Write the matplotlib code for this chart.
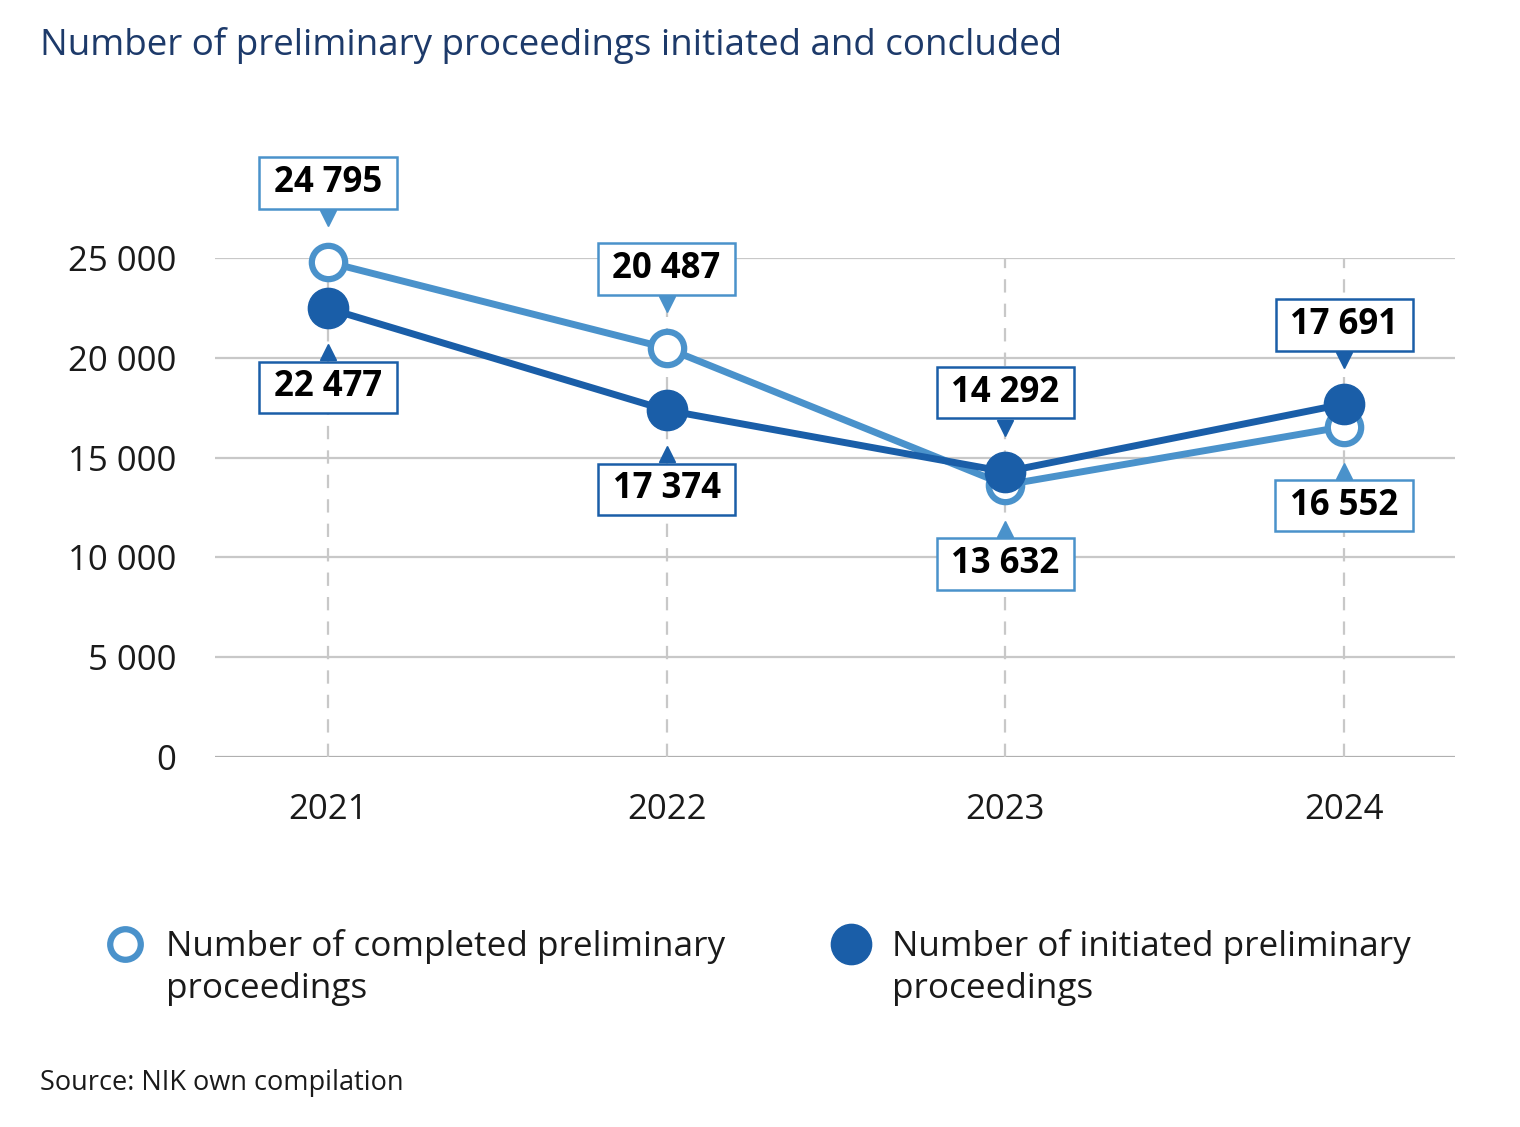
import matplotlib
matplotlib.use("Agg")
import matplotlib.pyplot as plt
import matplotlib.transforms as mtransforms
from matplotlib.lines import Line2D

plt.rcParams["font.family"] = ["Open Sans", "DejaVu Sans"]

years = ["2021", "2022", "2023", "2024"]
completed = [24795, 20487, 13632, 16552]
initiated = [22477, 17374, 14292, 17691]
yticks = [0, 5000, 10000, 15000, 20000, 25000]

LIGHT = "#4a92cb"
DARK = "#1a5ea8"
GRID = "#c8c8c8"
TXT = "#1a1a1a"


def fmt(v):
    return f"{v:,}".replace(",", " ")


fig = plt.figure(figsize=(15.2, 11.27), dpi=100)
ax = fig.add_axes([215 / 1520, 370 / 1127, 1240 / 1520, 499 / 1127])

x = list(range(len(years)))
ax.set_xlim(-0.333, 3.327)
ax.set_ylim(0, 25000)

for v in yticks:
    ax.axhline(v, color="#b0b0b0" if v == 0 else GRID, lw=1.6, zorder=1)
for xi in x:
    ax.axvline(xi, color=GRID, lw=1.6, ls=(0, (6, 5)), zorder=1)

ax.plot(x, completed, color=LIGHT, lw=5, marker="o", ms=24, mfc="white",
        mec=LIGHT, mew=4.5, zorder=3, clip_on=False)
ax.plot(x, initiated, color=DARK, lw=5, marker="o", ms=29, mfc=DARK,
        mec=DARK, zorder=4, clip_on=False)

up_tri = mtransforms.offset_copy(ax.transData, fig=fig, x=0, y=44, units="dots")
dn_tri = mtransforms.offset_copy(ax.transData, fig=fig, x=0, y=-44, units="dots")

for i in x:
    pairs = [(completed[i], LIGHT), (initiated[i], DARK)]
    hi = max(pairs, key=lambda p: p[0])
    lo = min(pairs, key=lambda p: p[0])
    for (val, col), sign in ((hi, 1), (lo, -1)):
        ax.annotate("\u2009" + fmt(val) + "\u2009", (i, val), xytext=(0, 79 * sign),
                    textcoords="offset pixels", ha="center", va="center",
                    fontsize=25, fontweight="bold", color="black",
                    bbox=dict(boxstyle="square,pad=0.22", fc="white", ec=col, lw=1.8),
                    zorder=6, annotation_clip=False)
        tr = up_tri if sign > 0 else dn_tri
        ax.plot([i], [val], marker="v" if sign > 0 else "^", ms=11, color=col,
                mec=col, transform=tr, zorder=5, clip_on=False, ls="none")

ax.set_xticks(x)
ax.set_xticklabels(years)
ax.set_yticks(yticks)
ax.set_yticklabels([fmt(v) for v in yticks])
ax.tick_params(axis="both", length=0, labelsize=25, colors=TXT)
ax.tick_params(axis="x", pad=26)
ax.tick_params(axis="y", pad=28)
for s in ax.spines.values():
    s.set_visible(False)

fig.text(40 / 1520, 1 - 46 / 1127,
         "Number of preliminary proceedings initiated and concluded",
         fontsize=26.5, color="#1d3a6a", va="center", ha="left")

leg_items = [
    (125, "white", LIGHT, 22, 4.5, ["Number of completed preliminary", "proceedings"]),
    (851, DARK, DARK, 29, 1, ["Number of initiated preliminary", "proceedings"]),
]
for px, fc, ec, ms, mew, lines in leg_items:
    fig.add_artist(Line2D([px / 1520], [1 - 944 / 1127], transform=fig.transFigure,
                          marker="o", ms=ms, mfc=fc, mec=ec, mew=mew, ls="none"))
    for k, line in enumerate(lines):
        fig.text((px + 41) / 1520, 1 - (956 + 42 * k) / 1127, line, fontsize=25.3,
                 color=TXT, va="baseline", ha="left")

fig.text(40 / 1520, 1 - 1083 / 1127, "Source: NIK own compilation",
         fontsize=19.5, color=TXT, va="center", ha="left")

fig.savefig("out.png", dpi=100)
